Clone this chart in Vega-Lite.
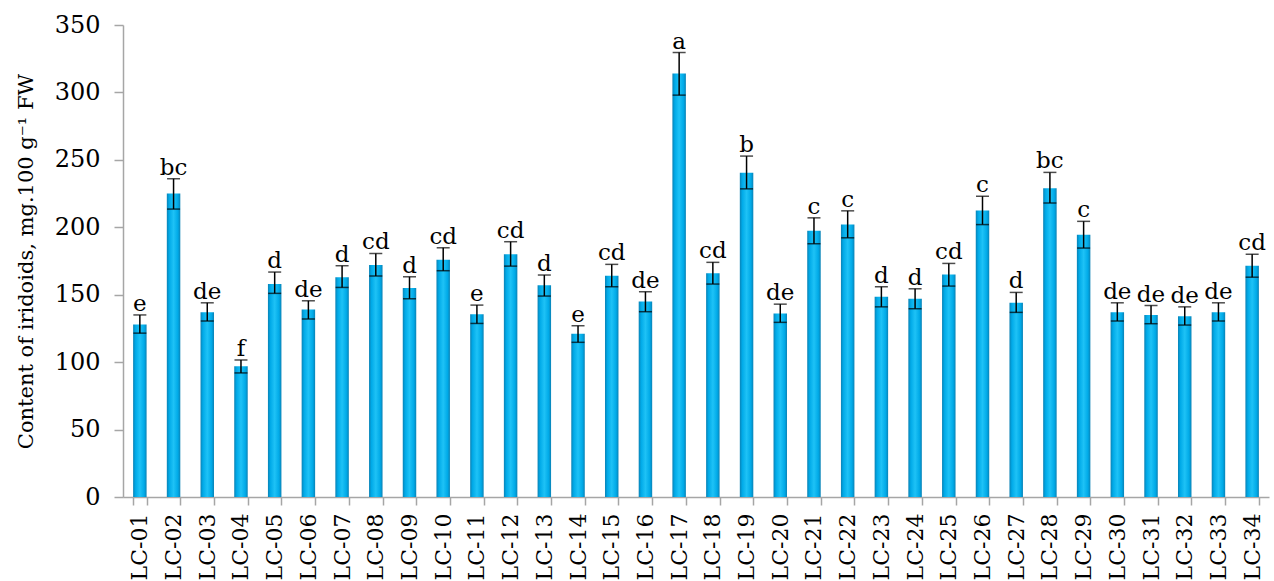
{
  "$schema": "https://vega.github.io/schema/vega-lite/v6.json",
  "autosize": {"type": "none"},
  "width": 1146,
  "height": 472,
  "padding": {"left": 123, "top": 25, "right": 5, "bottom": 84},
  "background": "white",
  "config": {"view": {"stroke": null}, "font": "DejaVu Serif"},
  "data": {"values": [
    {"line": "LC-01", "mean": 128, "lo": 121.5, "hi": 135, "letter": "e"},
    {"line": "LC-02", "mean": 225, "lo": 213.5, "hi": 236, "letter": "bc"},
    {"line": "LC-03", "mean": 137, "lo": 130.5, "hi": 144, "letter": "de"},
    {"line": "LC-04", "mean": 97, "lo": 92, "hi": 101.6, "letter": "f"},
    {"line": "LC-05", "mean": 158, "lo": 151, "hi": 166.8, "letter": "d"},
    {"line": "LC-06", "mean": 139, "lo": 132, "hi": 145.5, "letter": "de"},
    {"line": "LC-07", "mean": 163, "lo": 155.4, "hi": 171.5, "letter": "d"},
    {"line": "LC-08", "mean": 172, "lo": 163.8, "hi": 180.6, "letter": "cd"},
    {"line": "LC-09", "mean": 155, "lo": 147, "hi": 163.3, "letter": "d"},
    {"line": "LC-10", "mean": 176, "lo": 167.8, "hi": 184.8, "letter": "cd"},
    {"line": "LC-11", "mean": 135.5, "lo": 128.7, "hi": 142.3, "letter": "e"},
    {"line": "LC-12", "mean": 180, "lo": 171.2, "hi": 189.3, "letter": "cd"},
    {"line": "LC-13", "mean": 157, "lo": 149, "hi": 164.6, "letter": "d"},
    {"line": "LC-14", "mean": 121, "lo": 114.7, "hi": 127, "letter": "e"},
    {"line": "LC-15", "mean": 164, "lo": 155.9, "hi": 172.5, "letter": "cd"},
    {"line": "LC-16", "mean": 145, "lo": 137.4, "hi": 152.2, "letter": "de"},
    {"line": "LC-17", "mean": 314, "lo": 298, "hi": 329.6, "letter": "a"},
    {"line": "LC-18", "mean": 166, "lo": 157.9, "hi": 174, "letter": "cd"},
    {"line": "LC-19", "mean": 240.5, "lo": 228.5, "hi": 252.8, "letter": "b"},
    {"line": "LC-20", "mean": 136, "lo": 129.5, "hi": 143, "letter": "de"},
    {"line": "LC-21", "mean": 197.5, "lo": 187.8, "hi": 207, "letter": "c"},
    {"line": "LC-22", "mean": 202, "lo": 192.2, "hi": 212.2, "letter": "c"},
    {"line": "LC-23", "mean": 148.5, "lo": 141, "hi": 155.9, "letter": "d"},
    {"line": "LC-24", "mean": 147, "lo": 139.6, "hi": 154.4, "letter": "d"},
    {"line": "LC-25", "mean": 165, "lo": 156.4, "hi": 173.2, "letter": "cd"},
    {"line": "LC-26", "mean": 212.5, "lo": 202, "hi": 223, "letter": "c"},
    {"line": "LC-27", "mean": 144, "lo": 136.9, "hi": 151.7, "letter": "d"},
    {"line": "LC-28", "mean": 229, "lo": 218, "hi": 240.7, "letter": "bc"},
    {"line": "LC-29", "mean": 194.5, "lo": 184.6, "hi": 204.4, "letter": "c"},
    {"line": "LC-30", "mean": 137, "lo": 130.5, "hi": 144, "letter": "de"},
    {"line": "LC-31", "mean": 135, "lo": 128.5, "hi": 142, "letter": "de"},
    {"line": "LC-32", "mean": 134, "lo": 127.5, "hi": 141, "letter": "de"},
    {"line": "LC-33", "mean": 137, "lo": 130.5, "hi": 144, "letter": "de"},
    {"line": "LC-34", "mean": 171.5, "lo": 163, "hi": 180, "letter": "cd"}
  ]},
  "encoding": {
    "x": {
      "field": "line", "type": "nominal", "sort": null,
      "scale": {"paddingInner": 0.6, "paddingOuter": 0.3},
      "axis": {
        "title": null, "labelAngle": -90, "labelAlign": "right", "labelBaseline": "middle",
        "labelFont": "DejaVu Serif", "labelFontSize": 22, "labelColor": "black", "labelPadding": 8,
        "tickBand": "extent", "tickSize": 8, "tickColor": "#a6a6a6", "domainColor": "#a6a6a6", "domainWidth": 1.5, "tickWidth": 1.5
      }
    }
  },
  "layer": [
    {
      "mark": {"type": "bar", "color": {"gradient": "linear", "x1": 0, "x2": 1, "y1": 0, "y2": 0,
        "stops": [
          {"offset": 0, "color": "#0a82b5"},
          {"offset": 0.18, "color": "#00aae8"},
          {"offset": 0.5, "color": "#1ec2f6"},
          {"offset": 0.82, "color": "#00aae8"},
          {"offset": 1, "color": "#0a82b5"}
        ]}},
      "encoding": {
        "y": {
          "field": "mean", "type": "quantitative",
          "scale": {"domain": [0, 350], "nice": false},
          "axis": {
            "title": "Content of iridoids, mg.100 g⁻¹ FW", "titleFont": "DejaVu Serif", "titleFontSize": 21, "titleFontWeight": "normal", "titleColor": "black", "titlePadding": 18,
            "values": [0, 50, 100, 150, 200, 250, 300, 350], "grid": false,
            "labelFont": "DejaVu Serif", "labelFontSize": 24, "labelColor": "black", "labelPadding": 14,
            "tickSize": 9, "tickColor": "#a6a6a6", "domainColor": "#a6a6a6", "domainWidth": 1.5, "tickWidth": 1.5
          }
        }
      }
    },
    {
      "mark": {"type": "rule", "color": "black", "strokeWidth": 1.5},
      "encoding": {"y": {"field": "lo", "type": "quantitative"}, "y2": {"field": "hi"}}
    },
    {
      "mark": {"type": "tick", "color": "black", "thickness": 1.5, "size": 13, "orient": "horizontal"},
      "encoding": {"y": {"field": "lo", "type": "quantitative"}}
    },
    {
      "mark": {"type": "tick", "color": "black", "thickness": 1.5, "size": 13, "orient": "horizontal"},
      "encoding": {"y": {"field": "hi", "type": "quantitative"}}
    },
    {
      "mark": {"type": "text", "font": "DejaVu Serif", "fontSize": 23, "color": "black", "baseline": "alphabetic", "dy": -4},
      "encoding": {"y": {"field": "hi", "type": "quantitative"}, "text": {"field": "letter"}}
    }
  ]
}
